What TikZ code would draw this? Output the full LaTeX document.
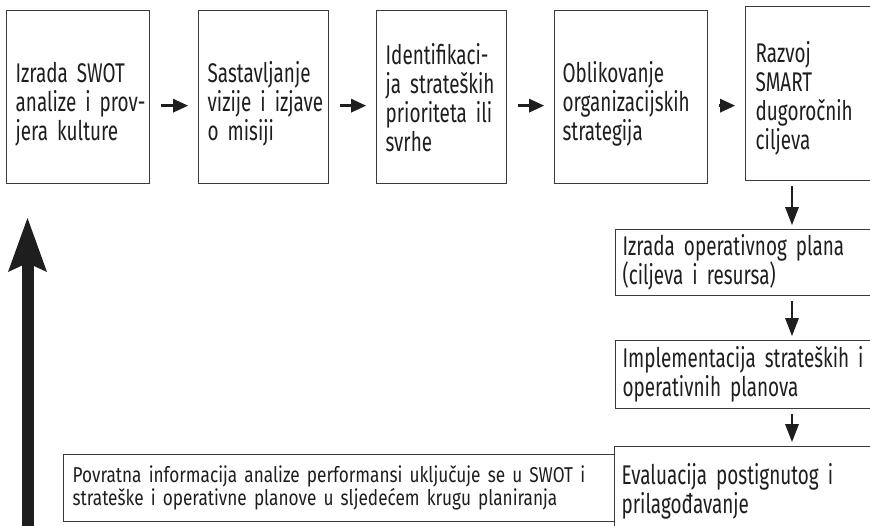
\documentclass[tikz,border=0pt]{standalone}
\usepackage{fontspec}
\setmainfont{Fira Sans}[FakeStretch=0.7]
\newfontfamily\notefont{Fira Sans}[FakeStretch=0.8]
\usetikzlibrary{arrows.meta}
\definecolor{ink}{HTML}{1E1E1E}
\definecolor{rule}{HTML}{3A3A3A}

\begin{document}
\begin{tikzpicture}[x=1pt,y=-1pt,
  stage/.style={draw=rule, line width=1.3pt, anchor=north west, align=left,
    inner xsep=9pt, inner ysep=0pt, text=ink, font=\fontsize{27}{29}\selectfont},
  note/.style={stage, font=\notefont\fontsize{21.5}{23}\selectfont},
  flow/.style={draw=ink, line width=2.4pt,
    -{Triangle[length=15pt,width=14pt,line width=0pt]},
    shorten <=11pt, shorten >=10pt},
  down/.style={draw=ink, line width=2.4pt,
    -{Triangle[length=18pt,width=14pt,line width=0pt]},
    shorten <=5pt, shorten >=4pt},
  loopback/.style={draw=ink, line width=12pt,
    -{Stealth[length=54pt,width=39pt,inset=9pt,line width=0pt]}},
]
\useasboundingbox (0,0) rectangle (870,525);
\clip (0,0) rectangle (870,525);

% top row of planning stages
\node[stage, text width=125pt, minimum height=173pt] (swot) at (6,10)
  {\rule{0pt}{34pt}\mbox{Izrada SWOT}\\\mbox{analize i prov-}\\\mbox{jera kulture}};
\node[stage, text width=112pt, minimum height=173pt] (vision) at (198,10)
  {\rule{0pt}{34pt}\mbox{Sastavljanje}\\\mbox{vizije i izjave}\\\mbox{o misiji}};
\node[stage, text width=112pt, minimum height=173pt] (prio) at (376,10)
  {\mbox{Identifikaci-}\\\mbox{ja strateških}\\\mbox{prioriteta ili}\\\mbox{svrhe}};
\node[stage, inner xsep=8pt, text width=137pt, minimum height=173pt] (strat) at (554,10)
  {\rule{0pt}{34pt}\mbox{Oblikovanje}\\\mbox{organizacijskih}\\\mbox{strategija}};
\node[stage, inner xsep=10pt, text width=125pt, minimum height=174pt] (smart) at (745,6)
  {\rule{0pt}{30pt}\mbox{Razvoj}\\\mbox{SMART}\\\mbox{dugoročnih}\\\mbox{ciljeva}};

% right-hand column
\node[stage, inner xsep=7pt, text width=261pt, minimum height=66pt] (oper) at (615,229)
  {\mbox{Izrada operativnog plana}\\\mbox{(ciljeva i resursa)}};
\node[stage, inner xsep=7pt, text width=261pt, minimum height=68pt] (impl) at (615,340)
  {\mbox{Implementacija strateških i}\\\mbox{operativnih planova}};
\node[stage, inner xsep=7pt, text width=262pt, minimum height=90pt] (eval) at (614,446)
  {\mbox{Evaluacija postignutog i}\\\mbox{prilagođavanje}};

% feedback note
\node[note, text width=533pt, minimum height=67pt] (feedback) at (63,454)
  {\mbox{Povratna informacija analize performansi uključuje se u SWOT i}\\\mbox{strateške i operativne planove u sljedećem krugu planiranja}};

% connectors along the top row
\draw[flow] ([yshift=-8.5pt]swot.east) -- ([yshift=-8.5pt]swot.east -| vision.west);
\draw[flow] ([yshift=-8.5pt]vision.east) -- ([yshift=-8.5pt]vision.east -| prio.west);
\draw[flow] ([yshift=-8.5pt]prio.east) -- ([yshift=-8.5pt]prio.east -| strat.west);
\draw[flow] ([yshift=-8.5pt]strat.east) -- ([yshift=-8.5pt]strat.east -| smart.west);

% connectors down the right column
\coordinate (spine) at (792,0);
\draw[down] (smart.south -| spine) -- (oper.north -| spine);
\draw[down] (oper.south -| spine) -- (impl.north -| spine);
\draw[down] (impl.south -| spine) -- (eval.north -| spine);

% loop back to the start of the cycle
\coordinate (loopBase) at (27.5,530);
\coordinate (loopTip) at (27.5,218);
\draw[loopback] (loopBase) -- (loopTip);
\end{tikzpicture}
\end{document}
